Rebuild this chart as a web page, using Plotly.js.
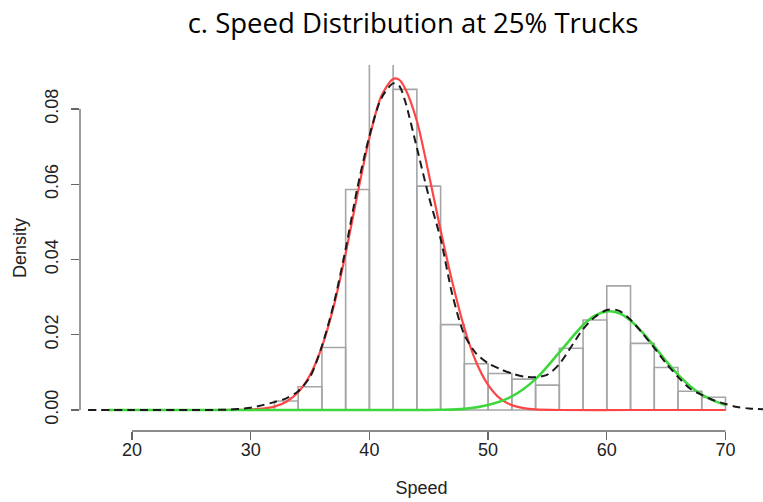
<!DOCTYPE html>
<html>
<head>
<meta charset="utf-8">
<script src="https://cdn.plot.ly/plotly-3.0.1.min.js"></script>
<style>html,body{margin:0;padding:0;background:#fff;}#chart{width:763px;height:502px;}</style>
</head>
<body>
<div id="chart"></div>
<script>
// Histogram (bin width 2): left edges and densities
var binWidth = 2;
var binLeft = [32, 34, 36, 38, 40, 42, 44, 46, 48, 50, 52, 54, 56, 58, 60, 62, 64, 66, 68];
var binDensity = [0.0024, 0.0062, 0.0166, 0.0586, 0.1005, 0.0852, 0.0595, 0.0227, 0.0123, 0.0097,
                  0.0082, 0.0066, 0.0164, 0.0239, 0.0330, 0.0177, 0.0113, 0.0050, 0.0034];

// Red component (cars)
var redX = [18, 26, 29, 30, 31, 32, 33, 34, 35, 36, 37, 38, 39, 40, 41, 42, 42.5, 43, 44, 45, 46, 47, 48, 49, 50, 51, 52, 53, 54, 56, 62, 70];
var redY = [0, 0, 0.00004, 0.00013, 0.00036, 0.0009, 0.0022, 0.0047, 0.0093, 0.0168, 0.0276, 0.0416, 0.0574, 0.0723, 0.0834, 0.0880, 0.0878, 0.0855, 0.0768, 0.0628, 0.0478, 0.0338, 0.0218, 0.0127, 0.0067, 0.0031, 0.0013, 0.0005, 0.00015, 0, 0, 0];

// Green component (trucks)
var greenX = [18, 40, 44, 46, 48, 50, 52, 54, 56, 58, 59, 60, 61, 62, 63, 64, 65, 66, 67, 68, 69, 70];
var greenY = [0, 0, 0.00001, 0.00006, 0.0003, 0.0013, 0.0036, 0.0082, 0.0153, 0.0226, 0.0251, 0.0262, 0.0258, 0.0238, 0.0206, 0.0169, 0.0130, 0.0094, 0.0064, 0.0041, 0.0025, 0.0013];

// Kernel density (dashed)
var kdeX = [16.3, 20, 25, 28, 30, 31, 32, 33, 34, 35, 36, 37, 38, 39, 40, 41, 42, 42.5, 43, 44, 45, 46, 47, 48, 49, 50, 51, 52, 53, 54, 55, 56, 57, 58, 59, 60, 61, 62, 63, 64, 65, 66, 67, 68, 69, 70, 71, 72, 73.2];
var kdeY = [0, 0, 0, 0.0001, 0.0006, 0.0013, 0.0021, 0.0031, 0.0050, 0.0088, 0.0170, 0.0282, 0.0428, 0.0592, 0.0728, 0.0828, 0.0868, 0.0862, 0.0822, 0.0697, 0.0568, 0.0455, 0.0305, 0.0200, 0.0150, 0.0124, 0.0109, 0.0097, 0.0089, 0.0087, 0.0094, 0.0122, 0.0168, 0.0215, 0.0247, 0.0266, 0.0264, 0.0240, 0.0204, 0.0165, 0.0124, 0.0088, 0.0057, 0.0040, 0.0026, 0.0016, 0.0008, 0.0004, 0.0002];

var xTicks = [20, 30, 40, 50, 60, 70];
var yTicks = [0, 0.02, 0.04, 0.06, 0.08];
var yTickText = ['0.00', '0.02', '0.04', '0.06', '0.08'];

var titleText = 'c. Speed Distribution at 25% Trucks';
var xTitle = 'Speed';
var yTitle = 'Density';

var binCenter = binLeft.map(function (l) { return l + binWidth / 2; });

var axisFont = {family: 'Liberation Sans, Arial, sans-serif', size: 18, color: '#222'};

var traces = [
  {type: 'bar', x: binCenter, y: binDensity, width: binWidth,
   marker: {color: 'rgba(255,255,255,0)', line: {color: '#a6a6a6', width: 1.6}}, hoverinfo: 'skip'},
  {type: 'scatter', mode: 'lines', x: redX, y: redY,
   line: {color: '#ff4646', width: 2.2, shape: 'spline', smoothing: 0.8}},
  {type: 'scatter', mode: 'lines', x: greenX, y: greenY,
   line: {color: '#3ed83e', width: 2.6, shape: 'spline', smoothing: 0.8}},
  {type: 'scatter', mode: 'lines', x: kdeX, y: kdeY,
   line: {color: '#1a1a1a', width: 2, dash: '8px,5px', shape: 'spline', smoothing: 0.8}}
];

var layout = {
  width: 763, height: 502,
  margin: {l: 80, r: 0, t: 65, b: 71, pad: 0},
  paper_bgcolor: '#fff', plot_bgcolor: '#fff',
  showlegend: false,
  bargap: 0,
  title: {text: titleText, font: {family: 'Open Sans, sans-serif', size: 27.5, color: '#000'},
          xref: 'paper', x: 0.4876, xanchor: 'center', yref: 'container', y: 0.954, yanchor: 'middle'},
  xaxis: {range: [15.62, 73.16], tickvals: xTicks, ticktext: xTicks.map(String),
          ticks: 'outside', ticklen: 8, tickwidth: 1.3, tickcolor: '#666',
          showgrid: false, zeroline: false, showline: false, tickfont: axisFont,
          ticklabelstandoff: -6,
          title: {text: xTitle, font: axisFont, standoff: 22}},
  yaxis: {range: [-0.00558, 0.09169], tickvals: yTicks, ticktext: yTickText, tickangle: -90,
          ticks: 'outside', ticklen: 8, tickwidth: 1.3, tickcolor: '#666',
          showgrid: false, zeroline: false, showline: false, tickfont: axisFont,
          ticklabelstandoff: 6,
          title: {text: yTitle, font: axisFont, standoff: 10}},
  shapes: [
    {type: 'line', xref: 'x', yref: 'paper', x0: xTicks[0], x1: xTicks[xTicks.length - 1], y0: 0, y1: 0,
     line: {color: '#666', width: 1.3}},
    {type: 'line', xref: 'paper', yref: 'y', x0: 0, x1: 0, y0: yTicks[0], y1: yTicks[yTicks.length - 1],
     line: {color: '#666', width: 1.3}}
  ]
};

Plotly.newPlot('chart', traces, layout, {displayModeBar: false, staticPlot: true});
</script>
</body>
</html>
